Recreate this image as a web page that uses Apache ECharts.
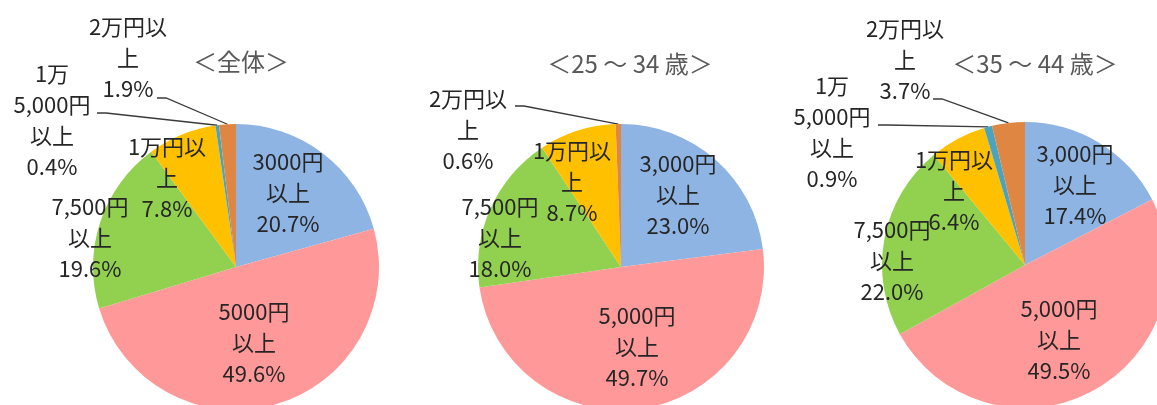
<!DOCTYPE html>
<html>
<head>
<meta charset="utf-8">
<script src="https://cdn.jsdelivr.net/npm/echarts@6/dist/echarts.min.js"></script>
<style>
html,body{margin:0;padding:0;background:#fff;}
#chart{width:1157px;height:405px;}
</style>
</head>
<body>
<div id="chart"></div>
<script>
// ---- data ----
const titles = ['＜全体＞', '＜25 ～ 34 歳＞', '＜35 ～ 44 歳＞'];
const cats1 = ['3000円\n以上', '5000円\n以上', '7,500円\n以上', '1万円以\n上', '1万\n5,000円\n以上', '2万円以\n上'];
const cats2 = ['3,000円\n以上', '5,000円\n以上', '7,500円\n以上', '1万円以\n上', '1万\n5,000円\n以上', '2万円以\n上'];
const cats3 = ['3,000円\n以上', '5,000円\n以上', '7,500円\n以上', '1万円以\n上', '1万\n5,000円\n以上', '2万円以\n上'];
const vals1 = [20.7, 49.6, 19.6, 7.8, 0.4, 1.9];
const vals2 = [23.0, 49.7, 18.0, 8.7, 0, 0.6];
const vals3 = [17.4, 49.5, 22.0, 6.4, 0.9, 3.7];

// ---- layout / style ----
const colors = ['#8EB4E3', '#FF9999', '#92D050', '#FFC000', '#4BA3BF', '#DF8642'];
const centers = [[236, 267], [621, 267], [1025, 265]];
const radius = 143;
const titlePos = [[236, 45], [625, 47], [1030, 47]];
const outsideIdx = [4, 5]; // small slices labelled outside with leader lines
const labelPos = [
  [[288, 193], [254, 343], [90, 238], [167, 178], [52, 120], [128, 58]],
  [[678, 195], [637, 347], [500, 238], [572, 182], null, [468, 130]],
  [[1075, 185], [1059, 340], [892, 261], [954, 191], [832, 132], [905, 60]]
];
// where the leader line leaves the label (label side), per chart / slice
const leaderStart = [
  [null, null, null, null, [97, 113], [157, 98]],
  [null, null, null, null, null, [515, 106]],
  [null, null, null, null, [878, 125], [933, 99]]
];
const FONT = '"Noto Sans CJK JP", "Noto Sans", sans-serif';

function buildData(cats, vals) {
  return cats.map((c, i) => {
    const outside = outsideIdx.indexOf(i) >= 0;
    return {
      name: c,
      value: vals[i],
      itemStyle: { color: colors[i] },
      label: { show: vals[i] > 0, position: outside ? 'outside' : 'inside' },
      labelLine: { show: outside && vals[i] > 0 }
    };
  });
}

const allCats = [cats1, cats2, cats3];
const allVals = [vals1, vals2, vals3];

const series = allCats.map((cats, s) => ({
  type: 'pie',
  center: centers[s],
  radius: radius,
  startAngle: 90,
  clockwise: true,
  avoidLabelOverlap: false,
  silent: true,
  animation: false,
  itemStyle: { borderWidth: 0 },
  label: {
    formatter: p => p.name + '\n' + p.value.toFixed(1) + '%',
    fontFamily: FONT,
    fontSize: 22,
    lineHeight: 31,
    color: '#262626',
    align: 'center'
  },
  labelLine: {
    length: 10,
    length2: 12,
    lineStyle: { color: '#3a3a3a', width: 1.3 }
  },
  labelLayout: function (params) {
    const p = labelPos[s][params.dataIndex];
    if (!p) return {};
    const out = { x: p[0], y: p[1], align: 'center', verticalAlign: 'middle' };
    const ls = leaderStart[s][params.dataIndex];
    if (ls && params.labelLinePoints && params.labelLinePoints.length) {
      const edge = params.labelLinePoints[0];
      out.labelLinePoints = [[edge[0], edge[1]], [ls[0] + 9, ls[1]], [ls[0], ls[1]]];
    }
    return out;
  },
  data: buildData(cats, allVals[s])
}));

const chart = echarts.init(document.getElementById('chart'), null, { renderer: 'canvas' });
chart.setOption({
  backgroundColor: '#ffffff',
  animation: false,
  title: titles.map((t, i) => ({
    text: t,
    left: titlePos[i][0],
    top: titlePos[i][1],
    textAlign: 'center',
    textStyle: { fontFamily: FONT, fontSize: 24, fontWeight: 'normal', color: '#595959' }
  })),
  series: series
});
</script>
</body>
</html>
